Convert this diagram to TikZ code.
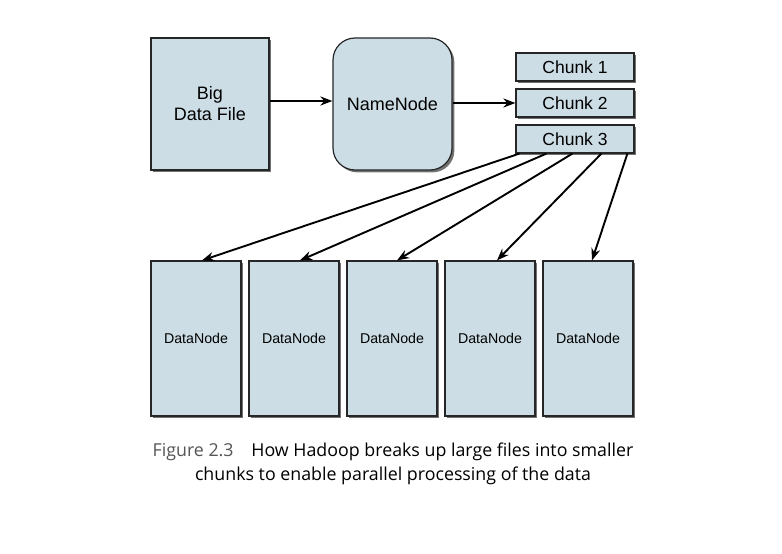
\documentclass[tikz,border=0pt]{standalone}
\usepackage{fontspec}
\setmainfont{Liberation Sans}
\newfontfamily\capfont{Open Sans}
\usetikzlibrary{arrows.meta,shadows,calc}
\definecolor{boxfill}{HTML}{CCDDE5}
\definecolor{figgray}{HTML}{555555}
\tikzset{
  boxst/.style={draw=black!85, line width=1.2pt, fill=boxfill, inner sep=0pt,
    drop shadow={shadow xshift=2.4pt, shadow yshift=-2.4pt, fill=black!65, opacity=0.85}},
  arr/.style={line width=1.9pt, -{Stealth[length=12pt,width=9pt]}},
}
\begin{document}
\begin{tikzpicture}[x=1pt,y=-1pt]
\useasboundingbox (0,0) rectangle (782,554);
\node[boxst, minimum width=118pt, minimum height=132pt, align=center, font=\fontsize{18}{21}\selectfont] (big) at (210,104) {Big\\Data File};
\node[boxst, rounded corners=22pt, minimum width=119pt, minimum height=132pt, font=\fontsize{18}{21}\selectfont] (nn) at (392.5,104) {NameNode};
\node[boxst, minimum width=118pt, minimum height=28pt, font=\fontsize{17.5}{20}\selectfont] (c1) at (575,67) {Chunk 1};
\node[boxst, minimum width=118pt, minimum height=28pt, font=\fontsize{17.5}{20}\selectfont] (c2) at (575,103) {Chunk 2};
\node[boxst, minimum width=118pt, minimum height=28pt, font=\fontsize{17.5}{20}\selectfont] (c3) at (575,139) {Chunk 3};
\foreach \i/\x in {1/196,2/294,3/392,4/490,5/588}{
  \node[boxst, minimum width=90pt, minimum height=155pt, font=\fontsize{14.2}{17}\selectfont] (dn\i) at (\x,338.5) {DataNode};
}
\draw[arr] ($(big.east)+(0,-3)$) -- ($(nn.west)+(0,-3)$);
\draw[arr] ($(nn.east)+(0,-1)$) -- (c2.west);
\draw[arr] ($(c3.south west)+(4,0)$) -- ($(dn1.north)+(6,0)$);
\draw[arr] ($(c3.south west)+(31,0)$) -- ($(dn2.north)+(6,0)$);
\draw[arr] ($(c3.south west)+(57,0)$) -- ($(dn3.north)+(5,0)$);
\draw[arr] ($(c3.south west)+(86,0)$) -- ($(dn4.north)+(7,0)$);
\draw[arr] ($(c3.south west)+(112,0)$) -- ($(dn5.north)+(4,0)$);
\node[align=center, font=\capfont\fontsize{17.8}{24}\selectfont] (cap) at (393,464) {{\color{figgray}Figure 2.3}\quad How Hadoop breaks up large files into smaller\\chunks to enable parallel processing of the data};
\end{tikzpicture}
\end{document}
